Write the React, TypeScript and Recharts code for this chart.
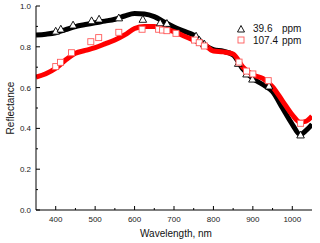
import React from "react";
import { ComposedChart, Line, Scatter, XAxis, YAxis, Legend, Label } from "recharts";

// fitted curves (wavelength nm -> reflectance)
const curveWl = [350, 375, 400, 425, 450, 475, 500, 525, 550, 575, 600, 625, 650, 675, 700, 725, 750, 775, 800, 825, 850, 875, 900, 925, 950, 975, 1000, 1020, 1035, 1050];
const curveLow = [0.858, 0.862, 0.869, 0.884, 0.899, 0.909, 0.918, 0.926, 0.935, 0.951, 0.963, 0.961, 0.948, 0.922, 0.897, 0.877, 0.857, 0.814, 0.786, 0.778, 0.76, 0.69, 0.645, 0.615, 0.58, 0.5, 0.42, 0.37, 0.39, 0.42];
const curveHigh = [0.652, 0.668, 0.695, 0.735, 0.768, 0.782, 0.796, 0.814, 0.833, 0.858, 0.89, 0.9, 0.9, 0.889, 0.874, 0.853, 0.833, 0.814, 0.779, 0.775, 0.765, 0.7, 0.662, 0.645, 0.604, 0.535, 0.466, 0.43, 0.435, 0.46];

// measured points
const ptsLowWl = [400, 413, 444, 491, 510, 560, 621, 665, 682, 756, 764, 777, 863, 884, 899, 941, 1021];
const ptsLow = [0.877, 0.887, 0.907, 0.928, 0.936, 0.942, 0.935, 0.918, 0.915, 0.853, 0.833, 0.814, 0.719, 0.667, 0.642, 0.608, 0.368];
const ptsHighWl = [400, 412, 440, 489, 509, 560, 619, 661, 671, 682, 705, 752, 764, 777, 865, 884, 900, 939, 1021];
const ptsHigh = [0.703, 0.724, 0.771, 0.825, 0.845, 0.871, 0.886, 0.886, 0.882, 0.879, 0.866, 0.833, 0.82, 0.804, 0.725, 0.681, 0.667, 0.634, 0.425];

const xTicks = [400, 450, 500, 550, 600, 650, 700, 750, 800, 850, 900, 950, 1000];
const yTicks = [0, 0.1, 0.2, 0.3, 0.4, 0.5, 0.6, 0.7, 0.8, 0.9, 1.0];
const yMajor = [0, 0.2, 0.4, 0.6, 0.8, 1.0];

const legendItems = [
  { num: "39.6", unit: "ppm", marker: "triangle" },
  { num: "107.4", unit: "ppm", marker: "square" },
];

const FONT = '"Liberation Sans", Arial, sans-serif';
const RED = "#ff0000";
const PINK = "#ff5a5a";

const lowLine = curveWl.map((w, i) => ({ wl: w, r: curveLow[i] }));
const highLine = curveWl.map((w, i) => ({ wl: w, r: curveHigh[i] }));
const lowPts = ptsLowWl.map((w, i) => ({ wl: w, r: ptsLow[i] }));
const highPts = ptsHighWl.map((w, i) => ({ wl: w, r: ptsHigh[i] }));

const Tri = (props: any) => {
  const { cx, cy } = props;
  const s = 3.8;
  return <path d={`M${cx},${cy - s} L${cx + s},${cy + s * 0.8} L${cx - s},${cy + s * 0.8} Z`} fill="#fff" stroke="#000" strokeWidth={0.9} />;
};

const Sq = (props: any) => {
  const { cx, cy } = props;
  return <rect x={cx - 3} y={cy - 3} width={6} height={6} fill="#fff" stroke={PINK} strokeWidth={0.9} />;
};

const BottomTick = ({ x, y, payload }: any) => {
  const major = payload.value % 100 === 0;
  return (
    <g>
      <line x1={x} x2={x} y1={y} y2={y - (major ? 4 : 2)} stroke="#000" />
      {major && (
        <text x={x} y={y + 12} textAnchor="middle" fontSize={8} fontFamily={FONT} fill="#222">
          {payload.value}
        </text>
      )}
    </g>
  );
};

const TopTick = ({ x, y, payload }: any) => {
  const major = payload.value % 100 === 0;
  return <line x1={x} x2={x} y1={y} y2={y + (major ? 4 : 2)} stroke="#000" />;
};

const isMajorY = (v: number) => yMajor.some((m) => Math.abs(m - v) < 1e-6);

const LeftTick = ({ x, y, payload }: any) => {
  const major = isMajorY(payload.value);
  return (
    <g>
      <line x1={x} x2={x + (major ? 4 : 2)} y1={y} y2={y} stroke="#000" />
      {major && (
        <text x={x - 5} y={y + 3} textAnchor="end" fontSize={8} fontFamily={FONT} fill="#222">
          {payload.value.toFixed(1)}
        </text>
      )}
    </g>
  );
};

const RightTick = ({ x, y, payload }: any) => {
  const major = isMajorY(payload.value);
  return <line x1={x} x2={x - (major ? 4 : 2)} y1={y} y2={y} stroke="#000" />;
};

const renderLegend = () => (
  <div style={{ fontFamily: FONT, fontSize: 10, color: "#111", lineHeight: "11.5px" }}>
    {legendItems.map((it) => (
      <div key={it.num} style={{ display: "flex", alignItems: "center", whiteSpace: "pre" }}>
        <svg width={18} height={10}>
          {it.marker === "triangle" ? (
            <path d="M6,1.5 L9.5,8 L2.5,8 Z" fill="#fff" stroke="#000" strokeWidth={0.9} />
          ) : (
            <rect x={3} y={2} width={6} height={6} fill="#fff" stroke={PINK} strokeWidth={0.9} />
          )}
        </svg>
        <span style={{ display: "inline-block", width: 29 }}>{it.num}</span>
        <span>{it.unit}</span>
      </div>
    ))}
  </div>
);

export default function App() {
  return (
    <div style={{ position: "absolute", left: 0, top: 0, width: 320, height: 243, background: "#fff" }}>
      <ComposedChart width={320} height={243} margin={{ top: 6, right: 8, left: 0, bottom: 0 }}>
        <XAxis
          dataKey="wl"
          type="number"
          domain={[350, 1050]}
          allowDataOverflow
          ticks={xTicks}
          tick={<BottomTick />}
          tickLine={false}
          tickSize={0}
          tickMargin={0}
          height={33}
          axisLine={{ stroke: "#000" }}
          interval={0}
        >
          <Label
            content={({ viewBox }: any) => (
              <text x={viewBox.x + viewBox.width / 2 + 2} y={viewBox.y + 27} textAnchor="middle" fontSize={10} fontFamily={FONT} fill="#111">
                Wavelength, nm
              </text>
            )}
          />
        </XAxis>
        <XAxis
          xAxisId="top"
          orientation="top"
          type="number"
          domain={[350, 1050]}
          allowDataOverflow
          ticks={xTicks}
          tick={<TopTick />}
          tickLine={false}
          tickSize={0}
          tickMargin={0}
          height={0}
          axisLine={{ stroke: "#000" }}
          interval={0}
        />
        <YAxis
          type="number"
          domain={[0, 1]}
          allowDataOverflow
          ticks={yTicks}
          tick={<LeftTick />}
          tickLine={false}
          tickSize={0}
          tickMargin={0}
          width={36}
          axisLine={{ stroke: "#000" }}
          interval={0}
        >
          <Label
            content={({ viewBox }: any) => {
              const cx = 13.5;
              const cy = viewBox.y + viewBox.height / 2;
              return (
                <text x={cx} y={cy} transform={`rotate(-90 ${cx} ${cy})`} textAnchor="middle" fontSize={10} fontFamily={FONT} fill="#111">
                  Reflectance
                </text>
              );
            }}
          />
        </YAxis>
        <YAxis
          yAxisId="right"
          orientation="right"
          type="number"
          domain={[0, 1]}
          allowDataOverflow
          ticks={yTicks}
          tick={<RightTick />}
          tickLine={false}
          tickSize={0}
          tickMargin={0}
          width={0}
          axisLine={{ stroke: "#000" }}
          interval={0}
        />
        <Legend
          layout="vertical"
          align="center"
          verticalAlign="middle"
          content={renderLegend}
          wrapperStyle={{ top: 23, left: 235, width: 85, bottom: "auto", right: "auto" }}
        />
        <Line data={lowLine} dataKey="r" type="monotone" stroke="#000" strokeWidth={5} dot={false} isAnimationActive={false} legendType="none" />
        <Line data={highLine} dataKey="r" type="monotone" stroke={RED} strokeWidth={5} dot={false} isAnimationActive={false} legendType="none" />
        <Scatter data={lowPts} dataKey="r" shape={<Tri />} isAnimationActive={false} />
        <Scatter data={highPts} dataKey="r" shape={<Sq />} isAnimationActive={false} />
      </ComposedChart>
    </div>
  );
}
